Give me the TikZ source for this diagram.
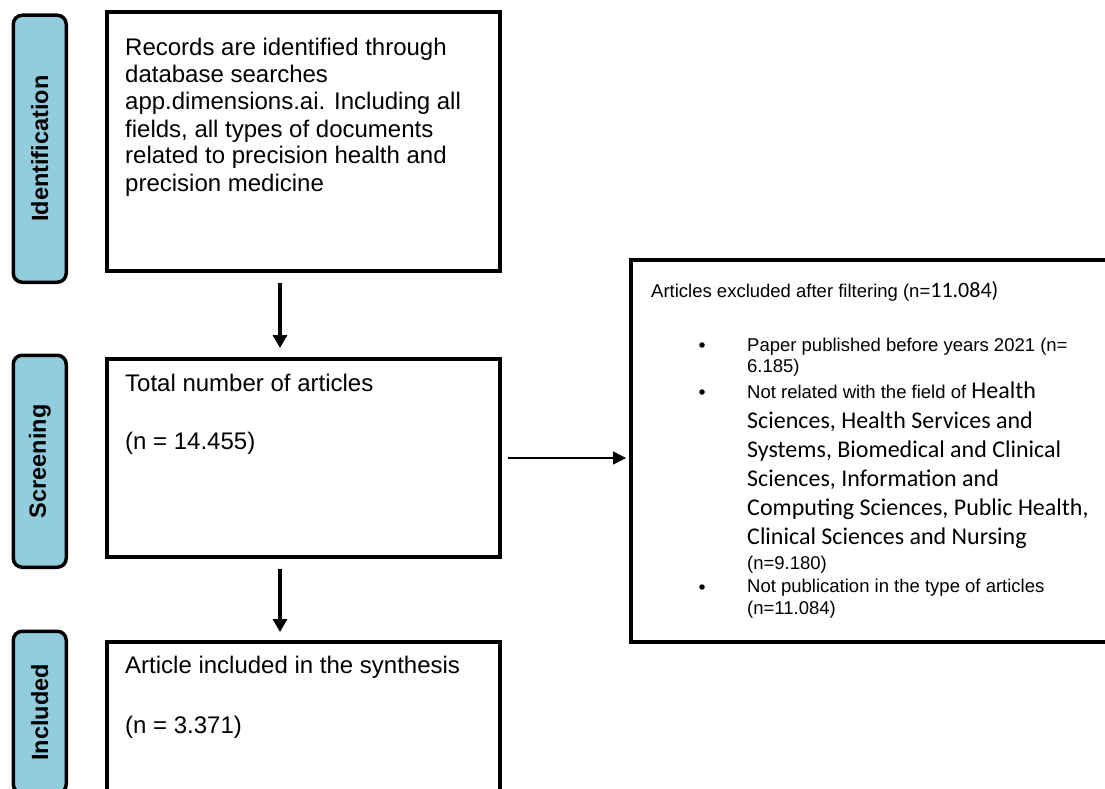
\documentclass[tikz,border=0pt]{standalone}
\usepackage{fontspec}
\setmainfont{Liberation Sans}
\newfontfamily\calib{Carlito}
\usetikzlibrary{arrows.meta}
\definecolor{stagefill}{RGB}{146,205,221}
\begin{document}
\begin{tikzpicture}[x=1pt,y=-1pt,
  stage/.style={draw=black, line width=3.5pt, fill=stagefill, rounded corners=9pt, inner sep=0pt, anchor=north west},
  stagetext/.style={rotate=90, font=\bfseries\fontsize{23.5}{27}\selectfont, inner sep=0pt},
  box/.style={draw=black, line width=4pt, fill=white, inner sep=0pt, anchor=north west},
  rbox/.style={draw=black, line width=3.5pt, fill=white, inner sep=0pt, anchor=north west},
  txt/.style={anchor=base west, inner sep=0pt, font=\fontsize{24}{27}\selectfont},
  rtxt/.style={anchor=base west, inner sep=0pt, font=\fontsize{18.5}{21}\selectfont},
  ctxt/.style={anchor=base west, inner sep=0pt, font=\calib\fontsize{24}{29}\selectfont},
  bul/.style={circle, fill=black, inner sep=0pt, minimum size=5.5pt},
  flow/.style={line width=3.2pt, -{Triangle[length=13pt,width=14pt]}},
  side/.style={line width=1.5pt, -{Triangle[length=13pt,width=13pt]}}
]
\useasboundingbox (0,0) rectangle (1105,789);
\clip (0,0) rectangle (1105,789);
\fill[white] (0,0) rectangle (1105,789);

% stage labels
\node[stage, minimum width=53pt, minimum height=267pt] (sid) at (11.5,13.5) {};
\node[stagetext] (lid) at (sid.center) {Identification};
\node[stage, minimum width=53pt, minimum height=212pt] (ssc) at (11.5,353.5) {};
\node[stagetext] (lsc) at (ssc.center) {Screening};
\node[stage, minimum width=53pt, minimum height=162pt] (sin) at (11.5,629.5) {};
\node[stagetext] (lin) at (sin.center) {Included};

% main boxes
\node[box, minimum width=393pt, minimum height=259pt] (b1) at (105,10) {};
\node[txt] (b1a) at (125,56) {Records are identified through};
\node[txt] (b1b) at (125,83) {database searches};
\node[txt] (b1c) at (125,110) {app.dimensions.ai. Including all};
\node[txt] (b1d) at (125,137) {fields, all types of documents};
\node[txt] (b1e) at (125,164) {related to precision health and};
\node[txt] (b1f) at (125,191) {precision medicine};

\node[box, minimum width=393pt, minimum height=198pt] (b2) at (105,357) {};
\node[txt] (b2a) at (125,391) {Total number of articles};
\node[txt] (b2b) at (125,449) {(n = 14.455)};

\node[box, minimum width=393pt, minimum height=162pt] (b3) at (105,640) {};
\node[txt] (b3a) at (125,673) {Article included in the synthesis};
\node[txt] (b3b) at (125,733) {(n = 3.371)};

% right box
\node[rbox, minimum width=477pt, minimum height=382pt] (rb) at (629,258) {};
\node[rtxt] (rh) at (651,297) {Articles excluded after filtering (n={\calib\fontsize{22}{26}\selectfont 11.084)}};
\node[bul] (u1) at (702,345) {};
\node[rtxt] (r1a) at (747,351) {Paper published before years 2021 (n=};
\node[rtxt] (r1b) at (747,372) {6.185)};
\node[bul] (u2) at (702,392) {};
\node[rtxt] (r2a) at (747,398) {Not related with the field of {\calib\fontsize{24}{29}\selectfont Health}};
\node[ctxt] (r2b) at (747,428) {Sciences, Health Services and};
\node[ctxt] (r2c) at (747,457) {Systems, Biomedical and Clinical};
\node[ctxt] (r2d) at (747,486) {Sciences, Information and};
\node[ctxt] (r2e) at (747,515) {Computing Sciences, Public Health,};
\node[ctxt] (r2f) at (747,544) {Clinical Sciences and Nursing};
\node[rtxt] (r2g) at (747,569) {(n=9.180)};
\node[bul] (u3) at (702,587) {};
\node[rtxt] (r3a) at (747,592) {Not publication in the type of articles};
\node[rtxt] (r3b) at (747,614) {(n=11.084)};

% connectors
\coordinate (ax) at (280,0);
\draw[flow, shorten <=10pt, shorten >=9pt] (b1.south -| ax) -- (b2.north -| ax);
\draw[flow, shorten <=10pt, shorten >=8pt] (b2.south -| ax) -- (b3.north -| ax);
\draw[side, shorten <=6pt, shorten >=3pt] (b2.east) -- (b2.east -| rb.west);
\end{tikzpicture}
\end{document}
